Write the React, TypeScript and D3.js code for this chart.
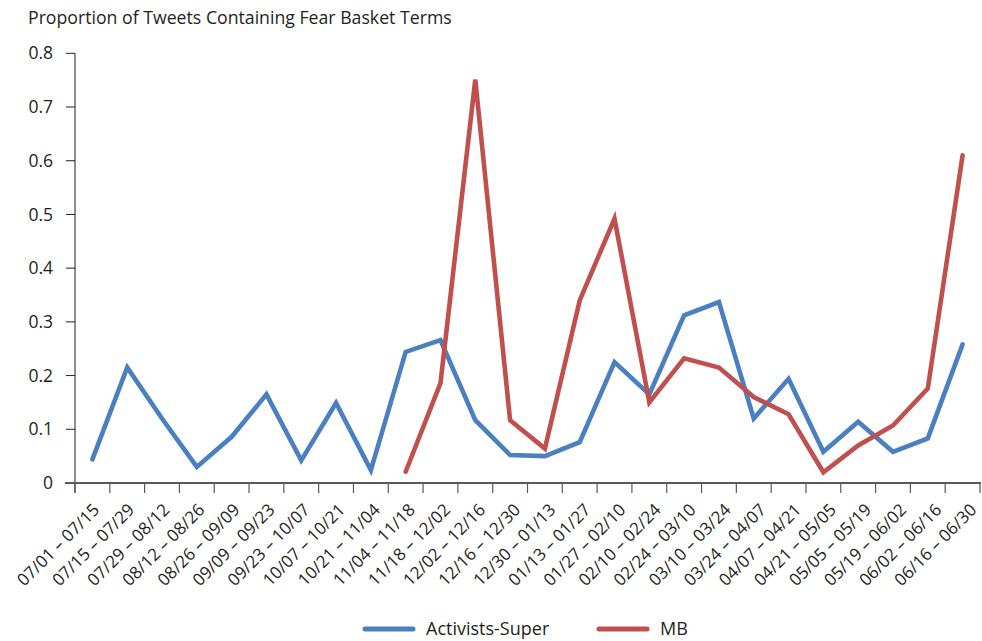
import React from 'react';
import * as d3 from 'd3';

const categories = [
  '07/01 – 07/15', '07/15 – 07/29', '07/29 – 08/12', '08/12 – 08/26', '08/26 – 09/09',
  '09/09 – 09/23', '09/23 – 10/07', '10/07 – 10/21', '10/21 – 11/04', '11/04 – 11/18',
  '11/18 – 12/02', '12/02 – 12/16', '12/16 – 12/30', '12/30 – 01/13', '01/13 – 01/27',
  '01/27 – 02/10', '02/10 – 02/24', '02/24 – 03/10', '03/10 – 03/24', '03/24 – 04/07',
  '04/07 – 04/21', '04/21 – 05/05', '05/05 – 05/19', '05/19 – 06/02', '06/02 – 06/16',
  '06/16 – 06/30',
];

const activistsSuper: number[] = [
  0.044, 0.215, 0.12, 0.03, 0.086, 0.165, 0.042, 0.149, 0.024, 0.244,
  0.266, 0.117, 0.052, 0.05, 0.076, 0.225, 0.165, 0.312, 0.337, 0.12,
  0.194, 0.058, 0.114, 0.058, 0.083, 0.258,
];

const mb: (number | null)[] = [
  null, null, null, null, null, null, null, null, null, 0.021,
  0.186, 0.751, 0.117, 0.064, 0.34, 0.492, 0.15, 0.232, 0.215, 0.16,
  0.128, 0.02, 0.07, 0.107, 0.176, 0.61,
];

const yTicks = [0, 0.1, 0.2, 0.3, 0.4, 0.5, 0.6, 0.7, 0.8];

const seriesNames = ['Activists-Super', 'MB'];
const seriesColors = ['#4a7fc1', '#c0504d'];

const W = 982;
const H = 641;
const FONT = "'Open Sans', 'Noto Sans', sans-serif";
const TEXT = '#231f20';

export default function App() {
  const x = d3.scaleBand<string>().domain(categories).range([75, 980]).padding(0);
  const y = d3.scaleLinear().domain([0, 0.8]).range([483, 53.3]);
  const cx = (i: number) => (x(categories[i]) as number) + x.bandwidth() / 2;

  const line = d3
    .line<number | null>()
    .defined((d) => d != null)
    .x((_, i) => cx(i))
    .y((d) => y(d as number));

  const series = [activistsSuper as (number | null)[], mb];
  const tickXs = categories.map((c) => x(c) as number).concat([x.range()[1]]);

  return (
    <svg
      width={W}
      height={H}
      style={{ position: 'absolute', left: 0, top: 0, display: 'block', background: '#fff' }}
      fontFamily={FONT}
    >
      <text x={28} y={24} fontSize={17.7} fill={TEXT}>
        Proportion of Tweets Containing Fear Basket Terms
      </text>

      {/* y axis */}
      <line x1={75} x2={75} y1={y(0.8)} y2={493} stroke="#231f20" strokeWidth={1} />
      {yTicks.map((t) => (
        <g key={t}>
          <line x1={66} x2={75} y1={y(t)} y2={y(t)} stroke="#231f20" strokeWidth={1} />
          <text
            x={53}
            y={y(t)}
            dy="0.35em"
            textAnchor="end"
            fontSize={17.5}
            fill={TEXT}
          >
            {t === 0 ? '0' : t.toFixed(1)}
          </text>
        </g>
      ))}

      {/* x axis */}
      <line x1={65} x2={981} y1={483} y2={483} stroke="#595959" strokeWidth={2} />
      {tickXs.map((tx, i) => (
        <line key={i} x1={tx} x2={tx} y1={483} y2={493} stroke="#595959" strokeWidth={1.2} />
      ))}
      {categories.map((c, i) => (
        <text
          key={c}
          transform={`translate(${cx(i) + 8 + 0.28 * i},${511}) rotate(-45)`}
          textAnchor="end"
          fontSize={17}
          fill={TEXT}
        >
          {c}
        </text>
      ))}

      {/* lines */}
      {series.map((s, k) => (
        <path
          key={k}
          d={line(s) || ''}
          fill="none"
          stroke={seriesColors[k]}
          strokeWidth={4.6}
          strokeLinecap="round"
          strokeLinejoin="miter"
        />
      ))}

      {/* legend */}
      {seriesNames.map((n, k) => {
        const lx = k === 0 ? 365 : 599;
        return (
          <g key={n}>
            <line x1={lx} x2={lx + 48} y1={629} y2={629} stroke={seriesColors[k]} strokeWidth={5} strokeLinecap="round" />
            <text x={lx + 61} y={635} fontSize={18} fill={TEXT}>
              {n}
            </text>
          </g>
        );
      })}
    </svg>
  );
}
